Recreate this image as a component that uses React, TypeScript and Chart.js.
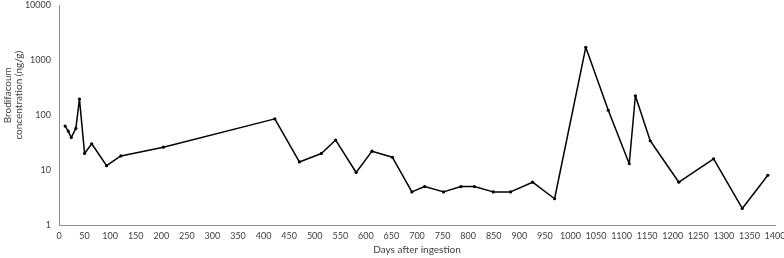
import React, { useEffect, useRef } from "react";
import { Chart, registerables } from "chart.js";

Chart.register(...registerables);

const days = [12, 18, 24, 33, 40, 50, 64, 93, 121, 204, 422, 470, 513, 541, 581, 612, 652, 690, 715, 752, 786, 812, 849, 883, 926, 969, 1030, 1074, 1115, 1127, 1156, 1212, 1280, 1336, 1386];
const concentration = [63, 51, 39, 57, 195, 20, 30, 12, 18, 26, 85, 14, 20, 35, 9, 22, 17, 4, 5, 4, 5, 5, 4, 4, 6, 3, 1700, 122, 13, 224, 34, 6, 16, 2, 8];
const yTicks = [1, 10, 100, 1000, 10000];
const xTitle = "Days after ingestion";
const yTitle = ["Brodifacoum", "concentration (ng/g)"];

const textColor = "#404040";
const fontFamily = "Lato, 'Open Sans', sans-serif";

const yTitlePlugin = {
  id: "yTitlePlugin",
  afterDraw(chart: any) {
    const ctx = chart.ctx;
    const area = chart.chartArea;
    const cy = area.top + (area.bottom - area.top) * 0.41;
    ctx.save();
    ctx.fillStyle = textColor;
    ctx.font = `10px ${fontFamily}`;
    ctx.textAlign = "center";
    ctx.textBaseline = "middle";
    const xs = [8, 19];
    yTitle.forEach((line, i) => {
      ctx.save();
      ctx.translate(xs[i], cy);
      ctx.rotate(-Math.PI / 2);
      ctx.fillText(line, 0, 0);
      ctx.restore();
    });
    ctx.restore();
  },
};

export default function App() {
  const ref = useRef<HTMLCanvasElement>(null);
  useEffect(() => {
    document.body.style.margin = "0";
    const font = { family: fontFamily, size: 9 };
    const chart = new Chart(ref.current!, {
      type: "scatter",
      data: {
        datasets: [
          {
            data: days.map((d, i) => ({ x: d, y: concentration[i] })),
            showLine: true,
            borderColor: "#000",
            backgroundColor: "#000",
            borderWidth: 1.5,
            borderJoinStyle: "round",
            pointRadius: 1.6,
            pointBorderWidth: 0,
          },
        ],
      },
      options: {
        animation: false,
        responsive: true,
        maintainAspectRatio: false,
        layout: { padding: 0 },
        plugins: { legend: { display: false }, tooltip: { enabled: false } },
        scales: {
          x: {
            type: "linear",
            min: 0,
            max: 1400,
            grid: { display: false, drawTicks: false },
            border: { display: true, color: "#8c8c8c", width: 1 },
            ticks: { stepSize: 50, autoSkip: false, maxRotation: 0, padding: 6, color: textColor, font, callback: (v: any) => String(v) },
            title: { display: true, text: xTitle, color: textColor, font: { family: fontFamily, size: 10 }, padding: { top: 2, bottom: 2 } },
            afterFit: (s: any) => { s.height = 33; s.paddingRight = 9; s.paddingLeft = 0; },
          },
          y: {
            type: "logarithmic",
            min: 1,
            max: 10000,
            grid: { display: false, drawTicks: false },
            border: { display: true, color: "#8c8c8c", width: 1 },
            afterBuildTicks: (s: any) => { s.ticks = yTicks.map((v) => ({ value: v })); },
            ticks: { padding: 8, color: textColor, font, callback: (v: any) => String(v) },
            title: { display: false },
            afterFit: (s: any) => { s.width = 59; s.paddingTop = 5; s.paddingBottom = 0; },
          },
        },
      },
      plugins: [yTitlePlugin],
    });
    return () => chart.destroy();
  }, []);
  return (
    <div style={{ width: 784, height: 258, position: "relative" }}>
      <canvas ref={ref} />
    </div>
  );
}
